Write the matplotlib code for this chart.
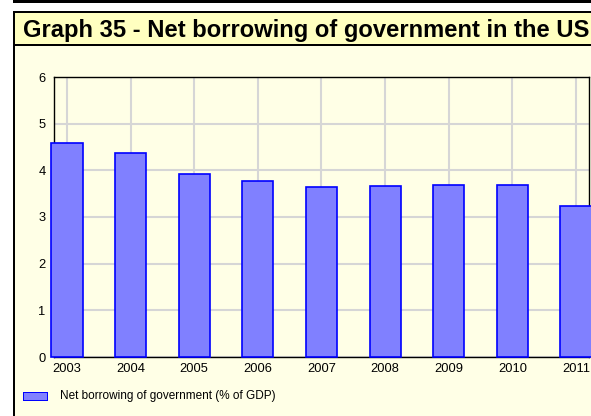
import matplotlib
matplotlib.use("Agg")
import matplotlib.pyplot as plt
from matplotlib.patches import Rectangle

years = ["2003", "2004", "2005", "2006", "2007", "2008", "2009", "2010", "2011"]
values = [4.58, 4.38, 3.93, 3.77, 3.64, 3.66, 3.68, 3.68, 3.23]
yticks = [0, 1, 2, 3, 4, 5, 6]
title = "Graph 35 - Net borrowing of government in the US"
legend_label = "Net borrowing of government (% of GDP)"

W, H = 591, 416
plt.rcParams['font.family'] = ['Liberation Sans', 'DejaVu Sans']
fig = plt.figure(figsize=(W / 100, H / 100), dpi=100, facecolor="white")


def px_rect(x0, y0, x1, y1, color, z=0):
    fig.add_artist(Rectangle((x0 / W, 1 - y1 / H), (x1 - x0) / W, (y1 - y0) / H,
                             transform=fig.transFigure, facecolor=color,
                             edgecolor="none", zorder=z))

# frame and bands
px_rect(13, 0, W, 3, "black")
px_rect(13, 11, W, H, "black")
px_rect(15, 13, W, 44, "#FFFFC0")
px_rect(15, 46, W, H, "#FFFFE6")

fig.text(23 / W, 1 - 37 / H, title, fontsize=17.1, fontweight="bold",
         ha="left", va="baseline", color="black")

ax_l, ax_r, ax_t, ax_b = 54, 589, 77, 357
ax = fig.add_axes([ax_l / W, 1 - ax_b / H, (ax_r - ax_l) / W, (ax_b - ax_t) / H])
ax.set_facecolor("none")
x = list(range(len(years)))
ax.bar(x, values, width=0.49, color="#8080FF", edgecolor="#0000FF",
       linewidth=1.2, clip_on=False, zorder=3)
ax.set_xlim(-0.204, 8.204)
ax.set_ylim(0, 6)
ax.set_yticks(yticks)
ax.set_yticklabels([str(t) for t in yticks])
ax.set_xticks(x)
ax.set_xticklabels(years)
ax.tick_params(axis="both", length=0, labelsize=9.3, colors="black")
ax.tick_params(axis="y", pad=6)
ax.tick_params(axis="x", pad=4)
ax.set_axisbelow(True)
ax.grid(True, color="#D6D6D6", linewidth=1.5)
for s in ax.spines.values():
    s.set_color("black")
    s.set_linewidth(1.0)

# legend
px_rect(23, 392, 48, 401, "#0000FF", z=5)
px_rect(24, 393, 47, 400, "#8080FF", z=6)
fig.text(60 / W, 1 - 396.5 / H, legend_label, fontsize=8.5, ha="left",
         va="center", color="black")

fig.savefig("out.png", dpi=100, facecolor="white")
